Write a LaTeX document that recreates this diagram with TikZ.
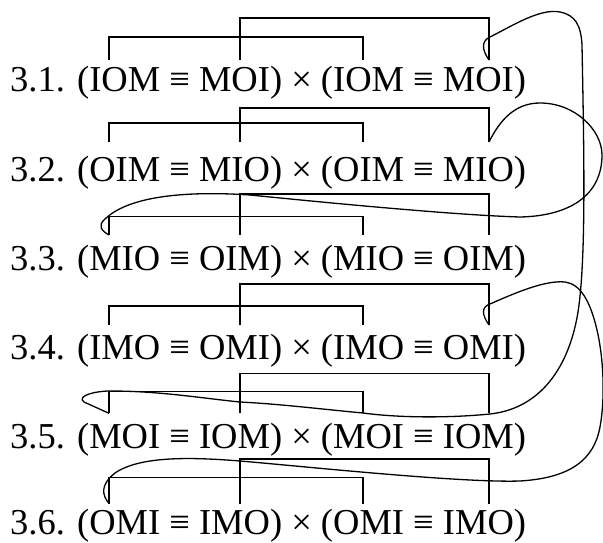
\documentclass[tikz,border=0pt]{standalone}
\usepackage{fontspec}
\setmainfont{Liberation Serif}
\tikzset{
  lbl/.style={anchor=base west, inner sep=0pt, font=\fontsize{36.5}{40}\selectfont},
  brk/.style={line width=1.4pt},
  link/.style={line width=1.3pt, line join=round},
}
\begin{document}
\begin{tikzpicture}[x=1pt,y=-1pt]
\useasboundingbox (0,0) rectangle (603,543);
% formula lines
\node[lbl] (t1) at (10,92)  {3.1. (IOM ≡ MOI) × (IOM ≡ MOI)};
\node[lbl] (t2) at (10,181) {3.2. (OIM ≡ MIO) × (OIM ≡ MIO)};
\node[lbl] (t3) at (10,270) {3.3. (MIO ≡ OIM) × (MIO ≡ OIM)};
\node[lbl] (t4) at (10,359) {3.4. (IMO ≡ OMI) × (IMO ≡ OMI)};
\node[lbl] (t5) at (10,448) {3.5. (MOI ≡ IOM) × (MOI ≡ IOM)};
\node[lbl] (t6) at (10,534) {3.6. (OMI ≡ IMO) × (OMI ≡ IMO)};
% brackets: row / upper / lower / tick end
\foreach \k/\u/\l/\e in {1/18/37/60, 2/108/123/142, 3/194/216.7/235,
                         4/284/306/325, 5/373.3/391.7/413.3, 6/459/477.7/503.5}{
  \coordinate (L\k) at (109,\e);
  \coordinate (B\k) at (240,\e);
  \coordinate (C\k) at (363,\e);
  \coordinate (R\k) at (489,\e);
  \draw[brk] (L\k) |- (363,\l) -- (C\k);
  \draw[brk] (B\k) |- (489,\u) -- (R\k);
}
% connector 3.1 -> 3.5
\draw[link] (R1) .. controls (482,50) and (481,41) .. (490,37)
  .. controls (512,26) and (540,8) .. (560,12)
  .. controls (575,15) and (581,25) .. (582,45)
  .. controls (584,150) and (586,250) .. (579,305)
  .. controls (572,360) and (545,408) .. (490,414)
  .. controls (450,418) and (400,418) .. (363,413)
  .. controls (320,409) and (280,404) .. (240,402)
  .. controls (200,398) and (160,391) .. (110,391)
  .. controls (95,391) and (76,396) .. (84,402)
  -- (L5);
% connector 3.2 -> 3.3
\draw[link] (R2) .. controls (500,120) and (515,103) .. (540,103)
  .. controls (575,103) and (602,130) .. (602,155)
  .. controls (602,195) and (570,216) .. (520,217)
  .. controls (450,215) and (300,200) .. (250,195)
  .. controls (190,191) and (130,195) .. (105,219)
  .. controls (97,226) and (102,231) .. (L3);
% connector 3.4 -> 3.6
\draw[link] (R4) .. controls (482,315) and (481,307) .. (490,304)
  .. controls (515,293) and (545,280) .. (565,282)
  .. controls (580,284) and (590,300) .. (597,330)
  .. controls (604,360) and (605,400) .. (600,427)
  .. controls (594,460) and (570,478) .. (520,481)
  .. controls (460,483) and (300,466) .. (240,461)
  .. controls (190,457) and (140,456) .. (115,473)
  .. controls (100,485) and (102,495) .. (L6);
\end{tikzpicture}
\end{document}
